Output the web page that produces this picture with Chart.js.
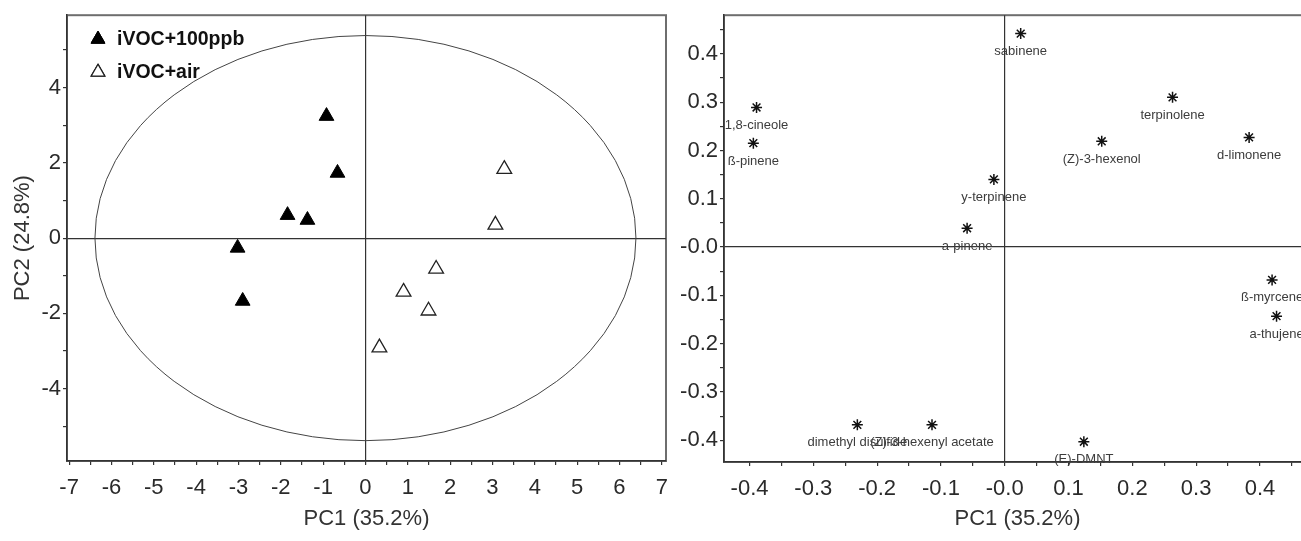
<!DOCTYPE html>
<html>
<head>
<meta charset="utf-8">
<title>PCA scores and loadings</title>
<script src="https://cdn.jsdelivr.net/npm/chart.js@4/dist/chart.umd.min.js"></script>
<style>
  html, body { margin: 0; padding: 0; background: #fff; overflow: hidden; width: 1301px; height: 541px; }
  canvas { position: absolute; top: 0; }
  #scores { left: 0; }
  #loadings { left: 668px; }
</style>
</head>
<body>
<canvas id="scores" width="680" height="541"></canvas>
<canvas id="loadings" width="650" height="541"></canvas>
<script>
// ---- Score plot data (PC1 vs PC2) ----
const groupLabels = ['iVOC+100ppb', 'iVOC+air'];
const ozonePC1 = [-0.92, -0.66, -1.84, -1.37, -3.02, -2.90];
const ozonePC2 = [3.24, 1.73, 0.61, 0.48, -0.26, -1.67];
const airPC1 = [3.28, 3.07, 1.67, 0.90, 1.49, 0.33];
const airPC2 = [1.83, 0.35, -0.82, -1.43, -1.93, -2.91];
// Hotelling T2 confidence ellipse (centre and semi-axes, in score units)
const ellipseCentre = [0, 0];
const ellipseSemiPC1 = 6.39;
const ellipseSemiPC2 = 5.38;

// ---- Loadings plot data ----
const compounds = [
  'sabinene', 'terpinolene', '(Z)-3-hexenol', 'd-limonene', 'y-terpinene',
  'a-pinene', '1,8-cineole', 'ß-pinene', 'ß-myrcene', 'a-thujene',
  '(E)-DMNT', 'dimethyl disulfide', '(Z)-3-hexenyl acetate'
];
const loadingPC1 = [0.025, 0.263, 0.152, 0.383, -0.017, -0.059, -0.389, -0.394, 0.419, 0.426, 0.124, -0.231, -0.114];
const loadingPC2 = [0.442, 0.310, 0.219, 0.227, 0.140, 0.039, 0.289, 0.215, -0.068, -0.143, -0.403, -0.368, -0.368];

const titlePC1 = 'PC1 (35.2%)';
const titlePC2 = 'PC2 (24.8%)';

// ---- Shared styling ----
const FONT = "'Liberation Sans', Arial, sans-serif";
const tickFont = { family: FONT, size: 22 };
const titleFont = { family: FONT, size: 22 };
const inkTick = '#2a2a2a';
const inkAxis = '#333';

Chart.defaults.font.family = FONT;
Chart.defaults.animation = false;

const toPoints = (xs, ys) => xs.map((x, i) => ({ x, y: ys[i] }));

// zero lines through the origin, tick marks on every step
function gridWithZeroLine() {
  return {
    drawOnChartArea: true,
    color: (c) => (c.tick && Math.abs(c.tick.value) < 1e-9 ? inkAxis : 'rgba(0,0,0,0)'),
    lineWidth: 1.2,
    tickColor: inkAxis,
    tickLength: 4,
    tickWidth: 1.2
  };
}

// grey box round the plotting area
const framePlugin = {
  id: 'frame',
  beforeDraw(chart) {
    const { ctx, chartArea: a } = chart;
    ctx.save();
    ctx.strokeStyle = '#6e6e6e';
    ctx.lineWidth = 2;
    ctx.strokeRect(a.left, a.top, a.right - a.left, a.bottom - a.top);
    ctx.restore();
  }
};

// confidence ellipse drawn through the score scales
const ellipsePlugin = {
  id: 'ellipse',
  beforeDatasetsDraw(chart) {
    const { ctx, scales: { x, y } } = chart;
    const cx = x.getPixelForValue(ellipseCentre[0]);
    const cy = y.getPixelForValue(ellipseCentre[1]);
    const rx = x.getPixelForValue(ellipseCentre[0] + ellipseSemiPC1) - cx;
    const ry = cy - y.getPixelForValue(ellipseCentre[1] + ellipseSemiPC2);
    ctx.save();
    ctx.strokeStyle = '#444';
    ctx.lineWidth = 1;
    ctx.beginPath();
    ctx.ellipse(cx, cy, rx, ry, 0, 0, Math.PI * 2);
    ctx.stroke();
    ctx.restore();
  }
};

// legend inside the top-left corner of the score plot
const scoreLegendPlugin = {
  id: 'scoreLegend',
  afterDatasetsDraw(chart) {
    const { ctx, chartArea: a } = chart;
    const rows = [a.top + 24, a.top + 57];
    ctx.save();
    chart.data.datasets.forEach((ds, i) => {
      const y = rows[i];
      Chart.helpers.drawPoint(ctx, {
        pointStyle: ds.pointStyle,
        radius: 8,
        borderWidth: ds.borderWidth,
        rotation: 0
      }, a.left + 31, y);
      ctx.fillStyle = ds.backgroundColor;
      ctx.strokeStyle = ds.borderColor;
      ctx.lineWidth = ds.borderWidth;
      ctx.fill();
      ctx.stroke();
      ctx.fillStyle = '#111';
      ctx.font = 'bold 19.5px ' + FONT;
      ctx.textAlign = 'left';
      ctx.textBaseline = 'middle';
      ctx.fillText(ds.label, a.left + 50, y);
    });
    ctx.restore();
  }
};

// compound names under each loading marker
const loadingLabelPlugin = {
  id: 'loadingLabels',
  afterDatasetsDraw(chart) {
    const { ctx } = chart;
    const meta = chart.getDatasetMeta(0);
    ctx.save();
    ctx.fillStyle = '#3c3c3c';
    ctx.font = '13px ' + FONT;
    ctx.textAlign = 'center';
    ctx.textBaseline = 'middle';
    meta.data.forEach((pt, i) => {
      ctx.fillText(compounds[i], pt.x, pt.y + 18);
    });
    ctx.restore();
  }
};

// ---- Score plot ----
new Chart(document.getElementById('scores'), {
  type: 'scatter',
  data: {
    datasets: [
      {
        label: groupLabels[0],
        data: toPoints(ozonePC1, ozonePC2),
        pointStyle: 'triangle',
        pointRadius: 8.5,
        backgroundColor: '#000',
        borderColor: '#000',
        borderWidth: 1
      },
      {
        label: groupLabels[1],
        data: toPoints(airPC1, airPC2),
        pointStyle: 'triangle',
        pointRadius: 8.5,
        backgroundColor: '#fff',
        borderColor: '#222',
        borderWidth: 1.3
      }
    ]
  },
  options: {
    responsive: false,
    devicePixelRatio: 1,
    events: [],
    layout: { padding: { top: 15, right: 14, bottom: 0, left: 0 } },
    plugins: { legend: { display: false }, tooltip: { enabled: false } },
    scales: {
      x: {
        type: 'linear',
        position: 'bottom',
        min: -7.05,
        max: 7.1,
        border: { display: true, color: inkAxis, width: 1.5 },
        grid: gridWithZeroLine(),
        ticks: {
          stepSize: 0.5,
          includeBounds: false,
          autoSkip: false,
          maxRotation: 0,
          padding: 10,
          color: inkTick,
          font: tickFont,
          callback: (v) => (Number.isInteger(v) ? String(v) : '')
        },
        title: { display: true, text: titlePC1, color: inkAxis, font: titleFont, padding: { top: 0, bottom: 9 } },
        afterFit: (s) => { s.height = 80; }
      },
      y: {
        type: 'linear',
        position: 'left',
        min: -5.92,
        max: 5.92,
        border: { display: true, color: inkAxis, width: 1.5 },
        grid: gridWithZeroLine(),
        ticks: {
          stepSize: 1,
          includeBounds: false,
          autoSkip: false,
          padding: 2,
          color: inkTick,
          font: tickFont,
          callback: (v) => (Math.round(v) % 2 === 0 ? String(v) : '')
        },
        title: { display: true, text: titlePC2, color: inkAxis, font: titleFont, padding: { top: 10, bottom: 0 } },
        afterFit: (s) => { s.width = 67; }
      }
    }
  },
  plugins: [framePlugin, ellipsePlugin, scoreLegendPlugin]
});

// ---- Loadings plot ----
const loadingTickLabel = (v) => {
  const k = Math.round(v * 20);
  if (k % 2 !== 0) return '';
  return k === 0 ? '-0.0' : (k / 20).toFixed(1);
};

new Chart(document.getElementById('loadings'), {
  type: 'scatter',
  data: {
    datasets: [
      {
        label: 'loadings',
        data: toPoints(loadingPC1, loadingPC2),
        pointStyle: 'star',
        pointRadius: 5.5,
        backgroundColor: '#111',
        borderColor: '#111',
        borderWidth: 1.5
      }
    ]
  },
  options: {
    responsive: false,
    devicePixelRatio: 1,
    events: [],
    layout: { padding: { top: 15, right: 5, bottom: 0, left: 0 } },
    plugins: { legend: { display: false }, tooltip: { enabled: false } },
    scales: {
      x: {
        type: 'linear',
        position: 'bottom',
        min: -0.44,
        max: 0.48,
        border: { display: true, color: inkAxis, width: 1.5 },
        grid: gridWithZeroLine(),
        ticks: {
          stepSize: 0.05,
          includeBounds: false,
          autoSkip: false,
          maxRotation: 0,
          padding: 10,
          color: inkTick,
          font: tickFont,
          callback: loadingTickLabel
        },
        title: { display: true, text: titlePC1, color: inkAxis, font: titleFont, padding: { top: 0, bottom: 9 } },
        afterFit: (s) => { s.height = 79; }
      },
      y: {
        type: 'linear',
        position: 'left',
        min: -0.445,
        max: 0.48,
        border: { display: true, color: inkAxis, width: 1.5 },
        grid: gridWithZeroLine(),
        ticks: {
          stepSize: 0.05,
          includeBounds: false,
          autoSkip: false,
          padding: 2,
          color: inkTick,
          font: tickFont,
          callback: loadingTickLabel
        },
        afterFit: (s) => { s.width = 56; }
      }
    }
  },
  plugins: [framePlugin, loadingLabelPlugin]
});
</script>
</body>
</html>
